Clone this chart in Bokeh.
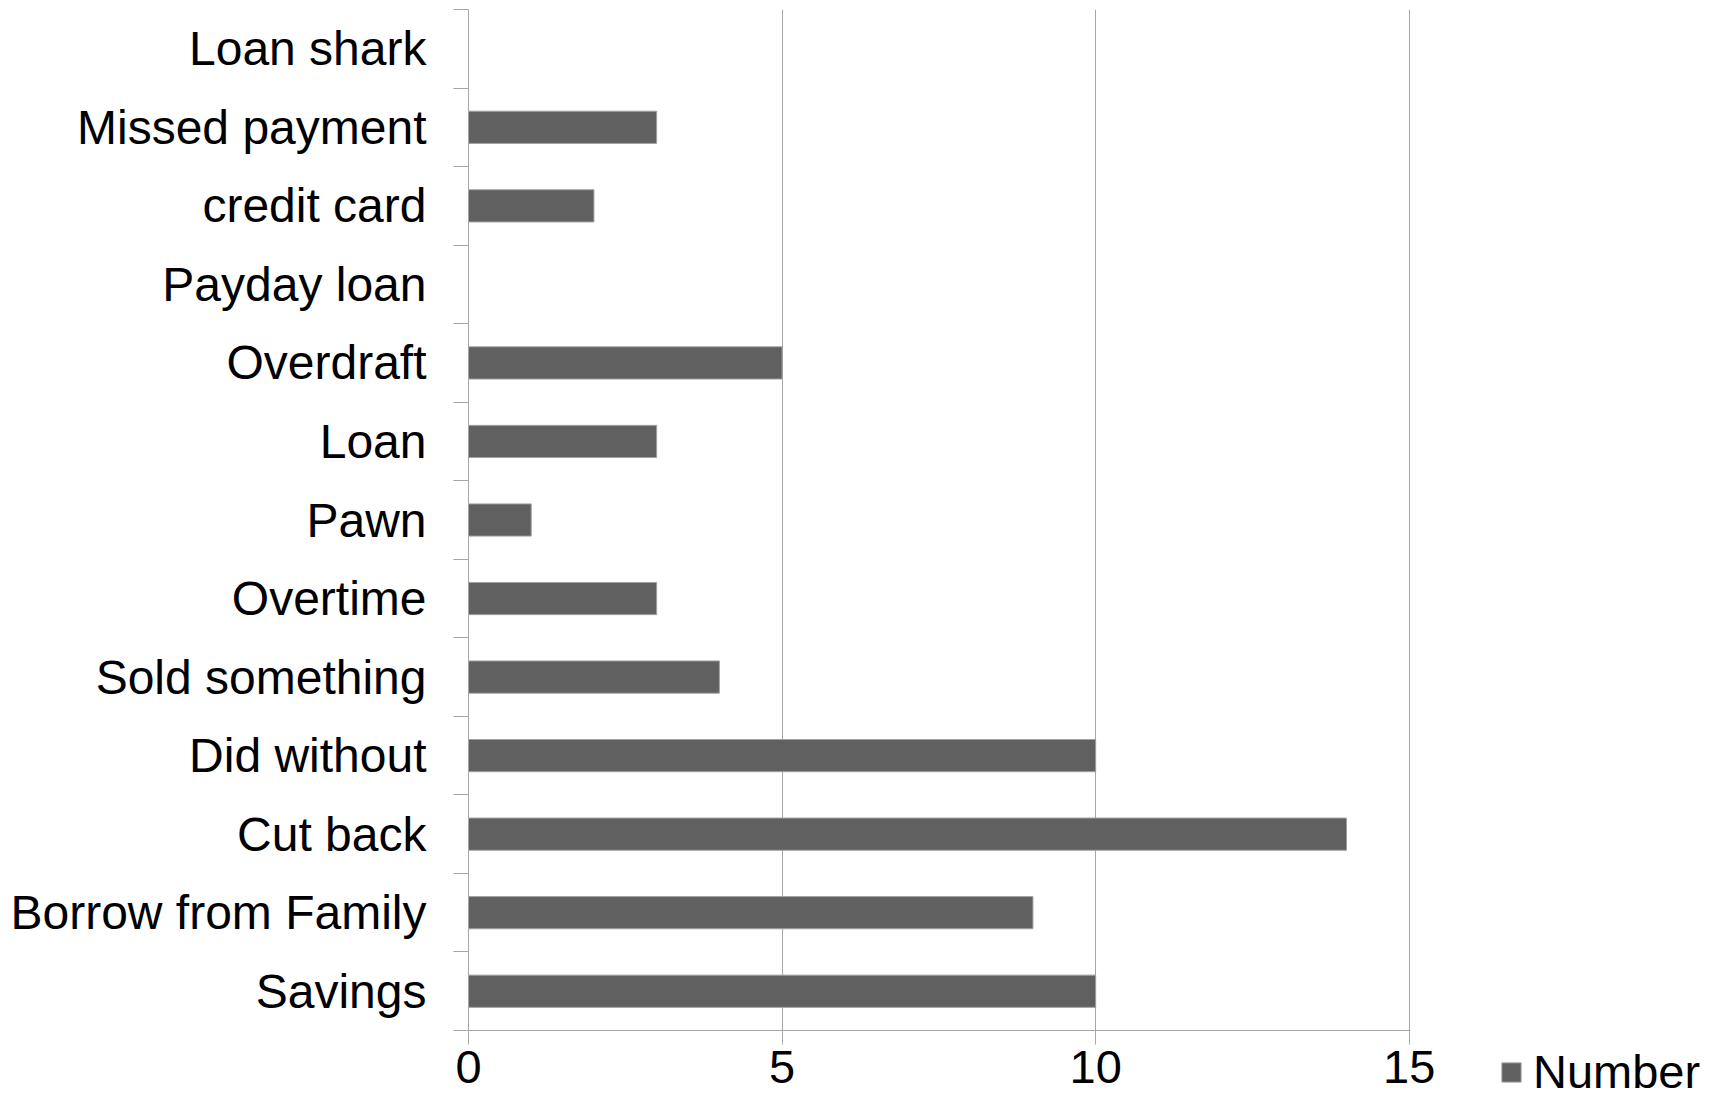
from bokeh.plotting import figure
from bokeh.layouts import row, column
from bokeh.models import Range1d, FixedTicker, Legend, LegendItem, ColumnDataSource, Spacer
from bokeh.embed import file_html
from bokeh.resources import INLINE

# Data (bottom to top)
categories = ["Savings", "Borrow from Family", "Cut back", "Did without",
              "Sold something", "Overtime", "Pawn", "Loan", "Overdraft",
              "Payday loan", "credit card", "Missed payment", "Loan shark"]
values = [10, 9, 14, 10, 4, 3, 1, 3, 5, 0, 2, 3, 0]
x_ticks = [0, 5, 10, 15]
series_name = "Number"

FONT = "Liberation Sans"
BAR_FILL = "#606060"
BAR_LINE = "#a0a0a0"
H = 1104
FRAME_BOTTOM = 1030

ypos = [i + 0.5 for i in range(len(categories))]
src = ColumnDataSource(dict(y=ypos, v=values, cat=categories))

p = figure(width=1450, height=H, output_backend="svg", toolbar_location=None,
           x_range=Range1d(0, 15.02), y_range=Range1d(0, len(categories)),
           min_border_left=468, min_border_right=40, min_border_top=9,
           min_border_bottom=H - FRAME_BOTTOM)
p.outline_line_color = None

bars = p.hbar(y="y", right="v", left=0, height=0.41, source=src,
              fill_color=BAR_FILL, line_color=BAR_LINE, line_width=1)

# x axis
p.xaxis.ticker = FixedTicker(ticks=x_ticks)
p.xaxis.axis_line_color = "#a6a6a6"
p.xaxis.major_tick_line_color = "#a6a6a6"
p.xaxis.major_tick_out = 14
p.xaxis.major_tick_in = 0
p.xaxis.minor_tick_line_color = None
p.xaxis.major_label_text_font = FONT
p.xaxis.major_label_text_font_size = "47px"
p.xaxis.major_label_text_color = "black"
p.xaxis.major_label_standoff = 6

# y axis: labels at category centres, ticks at category boundaries
p.yaxis.ticker = FixedTicker(ticks=ypos, minor_ticks=list(range(len(categories) + 1)))
p.yaxis.major_label_overrides = {y: c for y, c in zip(ypos, categories)}
p.yaxis.axis_line_color = "#a6a6a6"
p.yaxis.major_tick_line_color = None
p.yaxis.major_tick_out = 0
p.yaxis.major_tick_in = 0
p.yaxis.minor_tick_line_color = "#a6a6a6"
p.yaxis.minor_tick_out = 15
p.yaxis.minor_tick_in = 0
p.yaxis.major_label_text_font = FONT
p.yaxis.major_label_text_font_size = "48px"
p.yaxis.major_label_text_color = "black"
p.yaxis.major_label_standoff = 27

p.ygrid.grid_line_color = None
p.xgrid.grid_line_color = "#a6a6a6"
p.xgrid.grid_line_width = 1

# legend strip at the bottom right (key glyph kept outside its visible range)
p2 = figure(width=270, height=H - FRAME_BOTTOM, output_backend="svg",
            toolbar_location=None,
            x_range=Range1d(0, 1), y_range=Range1d(0, 1),
            x_axis_location=None, y_axis_location=None, min_border=0)
p2.outline_line_color = None
p2.grid.grid_line_color = None
key = p2.hbar(y=[-5], right=[-5], left=-6, height=0.41,
              fill_color=BAR_FILL, line_color=BAR_LINE, line_width=1)
legend = Legend(items=[LegendItem(label=series_name, renderers=[key])],
                location=(49, 5), orientation="vertical",
                padding=0, margin=0, spacing=0,
                glyph_width=24, glyph_height=24, label_standoff=10,
                label_text_font=FONT, label_text_font_size="47px",
                label_text_color="black",
                border_line_color=None, background_fill_alpha=0)
p2.add_layout(legend, "center")

right_col = column(Spacer(width=270, height=FRAME_BOTTOM), p2)
layout = row(p, right_col)
open("out.html", "w").write(file_html(layout, INLINE))
